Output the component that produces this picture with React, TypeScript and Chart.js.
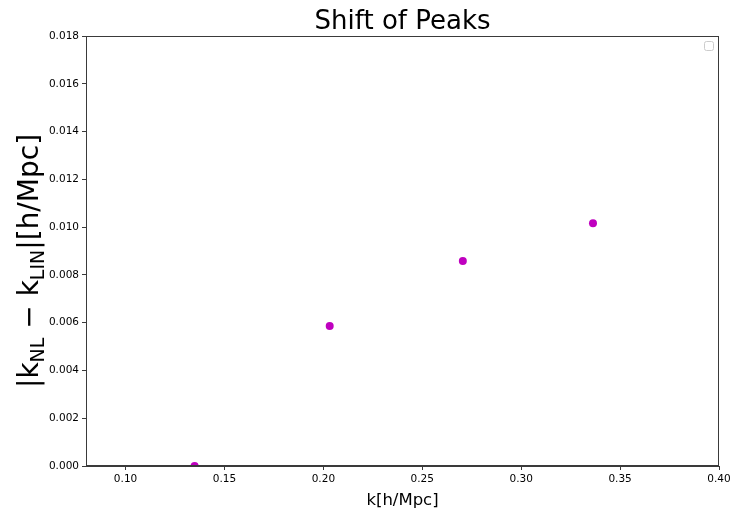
import React, { useEffect, useRef } from "react";
import { Chart, registerables } from "chart.js";

Chart.register(...registerables);

// Peak positions (k) and the shift of each peak between non-linear and linear spectra
const peakK = [0.1349, 0.2032, 0.2705, 0.3363];
const peakShift = [0.0, 0.00586, 0.00858, 0.01016];

const xTicks = [0.1, 0.15, 0.2, 0.25, 0.3, 0.35, 0.4];
const yTicks = [0, 0.002, 0.004, 0.006, 0.008, 0.01, 0.012, 0.014, 0.016, 0.018];

const FONT = "'DejaVu Sans', sans-serif";
const MARKER = "#bf00bf";
const AXIS = "#3a3a3a";

const W = 732;
const H = 511;
const PLOT = { left: 86, top: 36, right: 719, bottom: 466 };

// Title, y-axis label with subscripts, frame and empty legend box
const decorations = {
  id: "decorations",
  afterDraw(chart: any) {
    const { ctx, chartArea: a } = chart;
    ctx.save();

    // frame around the plot area
    ctx.strokeStyle = AXIS;
    ctx.lineWidth = 1;
    ctx.strokeRect(a.left + 0.5, a.top + 0.5, a.right - a.left - 1, a.bottom - a.top - 1);

    // title
    ctx.fillStyle = "#000";
    ctx.font = `26px ${FONT}`;
    ctx.textAlign = "center";
    ctx.textBaseline = "alphabetic";
    ctx.fillText("Shift of Peaks", (a.left + a.right) / 2, 29);

    // y-axis label: |k_NL − k_LIN|[h/Mpc]
    const big = 28;
    const small = 19;
    const parts: [string, boolean][] = [
      ["|k", false],
      ["NL", true],
      [" \u2212 k", false],
      ["LIN", true],
      ["|[h/Mpc]", false],
    ];
    let total = 0;
    const widths = parts.map(([t, sub]) => {
      ctx.font = `${sub ? small : big}px ${FONT}`;
      const w = ctx.measureText(t).width;
      total += w;
      return w;
    });
    ctx.translate(38, (a.top + a.bottom) / 2 + 10);
    ctx.rotate(-Math.PI / 2);
    ctx.textAlign = "left";
    let x = -total / 2;
    parts.forEach(([t, sub], i) => {
      ctx.font = `${sub ? small : big}px ${FONT}`;
      ctx.fillText(t, x, sub ? 6 : 0);
      x += widths[i];
    });
    ctx.setTransform(1, 0, 0, 1, 0, 0);

    // empty legend box
    const bx = a.right - 15;
    const by = a.top + 5;
    ctx.strokeStyle = "#cccccc";
    ctx.lineWidth = 1;
    ctx.beginPath();
    if ((ctx as any).roundRect) {
      ctx.roundRect(bx + 0.5, by + 0.5, 9, 9, 2);
    } else {
      ctx.rect(bx + 0.5, by + 0.5, 9, 9);
    }
    ctx.fillStyle = "#fff";
    ctx.fill();
    ctx.stroke();

    ctx.restore();
  },
};

export default function App() {
  const ref = useRef<HTMLCanvasElement | null>(null);

  useEffect(() => {
    const canvas = ref.current;
    if (!canvas) return;
    const chart = new Chart(canvas, {
      type: "scatter",
      data: {
        datasets: [
          {
            data: peakK.map((k, i) => ({ x: k, y: peakShift[i] })),
            backgroundColor: MARKER,
            borderColor: MARKER,
            borderWidth: 0,
            pointRadius: 4,
            clip: 0,
          },
        ],
      },
      options: {
        animation: false,
        responsive: false,
        devicePixelRatio: 1,
        layout: { padding: { left: 0, top: PLOT.top, right: W - PLOT.right, bottom: 0 } },
        plugins: {
          legend: { display: false },
          tooltip: { enabled: false },
          title: { display: false },
        },
        scales: {
          x: {
            type: "linear",
            min: 0.08,
            max: 0.4,
            afterFit(scale: any) {
              scale.height = H - PLOT.bottom;
              scale.paddingLeft = 0;
              scale.paddingRight = 0;
            },
            afterBuildTicks(scale: any) {
              scale.ticks = xTicks.map((v) => ({ value: v }));
            },
            grid: {
              drawOnChartArea: false,
              drawTicks: true,
              tickLength: 4,
              tickColor: AXIS,
            },
            border: { display: true, color: AXIS, width: 1 },
            ticks: {
              color: "#000",
              padding: 3,
              font: { family: FONT, size: 10.5 },
              maxRotation: 0,
              callback: (v: any) => Number(v).toFixed(2),
            },
            title: {
              display: true,
              text: "k[h/Mpc]",
              color: "#000",
              font: { family: FONT, size: 16.5 },
              padding: { top: 3, bottom: 0 },
            },
          },
          y: {
            type: "linear",
            min: 0,
            max: 0.018,
            afterFit(scale: any) {
              scale.width = PLOT.left;
              scale.paddingTop = 0;
              scale.paddingBottom = 0;
            },
            afterBuildTicks(scale: any) {
              scale.ticks = yTicks.map((v) => ({ value: v }));
            },
            grid: {
              drawOnChartArea: false,
              drawTicks: true,
              tickLength: 4,
              tickColor: AXIS,
            },
            border: { display: true, color: AXIS, width: 1 },
            ticks: {
              color: "#000",
              padding: 3,
              font: { family: FONT, size: 10.5 },
              callback: (v: any) => Number(v).toFixed(3),
            },
          },
        },
      },
      plugins: [decorations],
    });
    return () => chart.destroy();
  }, []);

  return (
    <div style={{ position: "fixed", left: 0, top: 0, width: W, height: H, background: "#fff" }}>
      <canvas ref={ref} width={W} height={H} style={{ width: W, height: H }} />
    </div>
  );
}
